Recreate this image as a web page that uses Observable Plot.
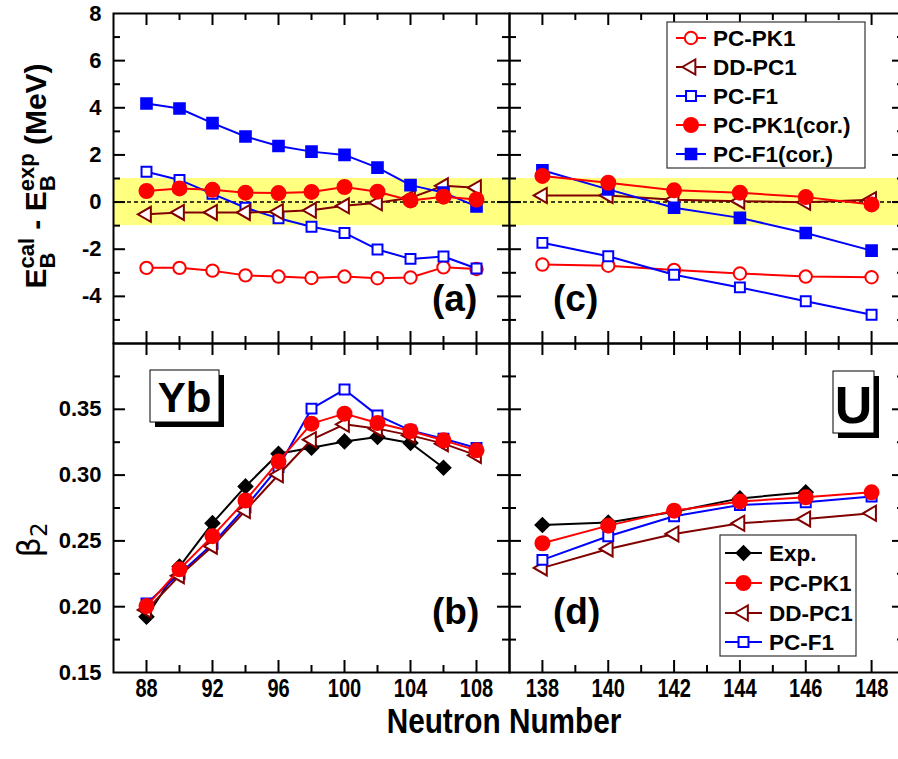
<!DOCTYPE html>
<html><head><meta charset="utf-8">
<script src="https://cdn.jsdelivr.net/npm/d3@7"></script>
<script src="https://cdn.jsdelivr.net/npm/@observablehq/plot@0.6"></script>
<style>
html,body{margin:0;padding:0;background:#fff;}
#fig{position:relative;width:898px;height:759px;overflow:hidden;background:#fff;}
#fig > svg{position:absolute;}
</style></head><body><div id="fig"></div>
<script>
// ---------------- data ----------------
const nYb    = [88, 90, 92, 94, 96, 98, 100, 102, 104, 106, 108];
const nYbExp = [88, 90, 92, 94, 96, 98, 100, 102, 104, 106];
const nU     = [138, 140, 142, 144, 146, 148];
const nUExp  = [138, 140, 142, 144, 146];

// (a) Yb binding energy differences (MeV)
const ybE_PK1    = [-2.79, -2.79, -2.91, -3.11, -3.16, -3.22, -3.16, -3.23, -3.20, -2.77, -2.84];
const ybE_DD     = [-0.52, -0.44, -0.44, -0.44, -0.41, -0.35, -0.16, -0.03, 0.18, 0.69, 0.61];
const ybE_F1     = [1.29, 0.94, 0.35, -0.24, -0.69, -1.05, -1.31, -2.01, -2.41, -2.31, -2.82];
const ybE_PK1cor = [0.47, 0.58, 0.52, 0.40, 0.38, 0.43, 0.64, 0.44, 0.07, 0.23, 0.11];
const ybE_F1cor  = [4.18, 3.97, 3.35, 2.78, 2.38, 2.14, 2.00, 1.46, 0.72, 0.40, -0.18];

// (c) U binding energy differences (MeV)
const uE_PK1    = [-2.65, -2.70, -2.88, -3.03, -3.16, -3.19];
const uE_DD     = [0.28, 0.28, 0.10, 0.04, -0.01, 0.10];
const uE_F1     = [-1.73, -2.30, -3.08, -3.62, -4.21, -4.78];
const uE_PK1cor = [1.11, 0.82, 0.50, 0.40, 0.21, -0.10];
const uE_F1cor  = [1.35, 0.54, -0.24, -0.67, -1.31, -2.06];

// (b) Yb beta2
const ybB_Exp = [0.1924, 0.2305, 0.2635, 0.2914, 0.3162, 0.3208, 0.3256, 0.3289, 0.3244, 0.3056];
const ybB_PK1 = [0.2005, 0.2284, 0.2536, 0.2807, 0.3104, 0.3391, 0.3467, 0.3396, 0.3335, 0.3264, 0.3188];
const ybB_DD  = [0.1975, 0.2236, 0.2460, 0.2731, 0.3003, 0.3269, 0.3386, 0.3353, 0.3302, 0.3239, 0.3150];
const ybB_F1  = [0.2025, 0.2249, 0.2477, 0.2756, 0.3061, 0.3505, 0.3650, 0.3454, 0.3340, 0.3277, 0.3206];

// (d) U beta2
const uB_Exp = [0.2621, 0.2640, 0.2722, 0.2823, 0.2869];
const uB_PK1 = [0.2482, 0.2616, 0.2730, 0.2800, 0.2831, 0.2869];
const uB_DD  = [0.2295, 0.2439, 0.2553, 0.2634, 0.2667, 0.2710];
const uB_F1  = [0.2356, 0.2535, 0.2687, 0.2773, 0.2793, 0.2838];

// ticks / labels
const ticksE      = [-4, -2, 0, 2, 4, 6, 8];
const majorE      = [-4, -2, 0, 2, 4, 6];
const minorE      = [-5, -3, -1, 1, 3, 5, 7];
const ticksBeta   = [0.15, 0.20, 0.25, 0.30, 0.35];
const majorBeta   = [0.20, 0.25, 0.30, 0.35];
const minorBeta   = [0.175, 0.225, 0.275, 0.325, 0.375];
const ticksNYb    = [88, 92, 96, 100, 104, 108];
const minorNYb    = [90, 94, 98, 102, 106];
const ticksNU     = [138, 140, 142, 144, 146, 148];
const minorNU     = [139, 141, 143, 145, 147];
const bandE       = [{y1: -1, y2: 1}];
const zeroLine    = [0];

const legendTop = ["PC-PK1", "DD-PC1", "PC-F1", "PC-PK1(cor.)", "PC-F1(cor.)"];
const legendBot = ["Exp.", "PC-PK1", "DD-PC1", "PC-F1"];

// ---------------- styles ----------------
const RED = "#ff0000", BLUE = "#0000ff", MAROON = "#800000";
const sty = {
  "PC-PK1":       {stroke: RED, fill: "white", symbol: "circle", r: 6.2},
  "DD-PC1":       {stroke: MAROON, fill: "white", symbol: "triangle", r: 5.6, rotate: -90},
  "PC-F1":        {stroke: BLUE, fill: "white", symbol: "square", r: 5.6},
  "PC-PK1(cor.)": {stroke: RED, fill: RED, symbol: "circle", r: 7},
  "PC-F1(cor.)":  {stroke: BLUE, fill: BLUE, symbol: "square", r: 6},
  "Exp.":         {stroke: "black", fill: "black", symbol: "diamond2", r: 6.2},
  "PC-PK1f":      {stroke: RED, fill: RED, symbol: "circle", r: 7}
};

function rows(ns, vs) { return ns.map((n, i) => ({n, v: vs[i]})); }
function series(ns, vs, key) {
  const s = sty[key];
  const d = rows(ns, vs);
  return [
    Plot.line(d, {x: "n", y: "v", stroke: s.stroke, strokeWidth: 2}),
    Plot.dot(d, {x: "n", y: "v", symbol: s.symbol, r: s.r, stroke: s.stroke, fill: s.fill,
                 strokeWidth: 2, rotate: s.rotate || 0})
  ];
}
function frameTicks(xMaj, xMin, yMaj, yMin, fw, fh) {
  const o = {stroke: "black", strokeWidth: 2};
  const X = d => d;
  return [
    Plot.tickX(xMaj, {x: X, insetTop: fh - 12, ...o}),
    Plot.tickX(xMaj, {x: X, insetBottom: fh - 12, ...o}),
    Plot.tickX(xMin, {x: X, insetTop: fh - 7, ...o}),
    Plot.tickX(xMin, {x: X, insetBottom: fh - 7, ...o}),
    Plot.tickY(yMaj, {y: X, insetRight: fw - 12, ...o}),
    Plot.tickY(yMaj, {y: X, insetLeft: fw - 12, ...o}),
    Plot.tickY(yMin, {y: X, insetRight: fw - 7, ...o}),
    Plot.tickY(yMin, {y: X, insetLeft: fw - 7, ...o}),
    Plot.frame({stroke: "black", strokeWidth: 2})
  ];
}
const baseStyle = {background: "transparent", overflow: "visible", fontFamily: "'Liberation Sans', Arial, sans-serif"};
const yAxisOpts = {tickSize: 0, tickPadding: 12, fontSize: 22, fontWeight: "bold",
                   fontFamily: "'Liberation Sans', Arial, sans-serif", label: null};
const xAxisOpts = {tickSize: 0, tickPadding: 7, fontSize: 25, fontWeight: "bold",
                   fontFamily: "'Liberation Sans', Arial, sans-serif", label: null};

const fig = document.getElementById("fig");
function place(svg, left, top) {
  svg.style.left = left + "px"; svg.style.top = top + "px";
  fig.appendChild(svg);
}
// condense the x tick labels horizontally (the reference uses a narrow bold face)
function condenseXLabels(svg, s) {
  d3.select(svg).selectAll('g[aria-label="x-axis tick label"] text').each(function () {
    const el = d3.select(this);
    const tr = el.attr("transform");
    if (tr) el.attr("transform", tr + ` scale(${s},1)`);
    else {
      const x = +el.attr("x") || 0;
      el.attr("x", x / s).attr("transform", `scale(${s},1)`);
    }
  });
}

// ---------------- panel (a) ----------------
const pA = Plot.plot({
  width: 509, height: 343, marginLeft: 113, marginTop: 13, marginRight: 0, marginBottom: 0,
  style: baseStyle,
  x: {domain: [86, 110], axis: null},
  y: {domain: [-6, 8]},
  marks: [
    Plot.rect(bandE, {y1: "y1", y2: "y2", fill: "#ffff80"}),
    Plot.ruleY(zeroLine, {stroke: "black", strokeWidth: 1.6, strokeDasharray: "4,3"}),
    ...series(nYb, ybE_PK1, "PC-PK1"),
    ...series(nYb, ybE_F1, "PC-F1"),
    ...series(nYb, ybE_DD, "DD-PC1"),
    ...series(nYb, ybE_F1cor, "PC-F1(cor.)"),
    ...series(nYb, ybE_PK1cor, "PC-PK1(cor.)"),
    ...frameTicks(ticksNYb, minorNYb, majorE, minorE, 396, 330),
    Plot.axisY({ticks: ticksE, tickFormat: d => String(d), ...yAxisOpts})
  ]
});
place(pA, 0, 0);

// ---------------- panel (c) ----------------
const pC = Plot.plot({
  width: 395, height: 343, marginLeft: 0, marginTop: 13, marginRight: 0, marginBottom: 0,
  style: baseStyle,
  x: {domain: [137, 149], axis: null},
  y: {domain: [-6, 8], axis: null},
  marks: [
    Plot.rect(bandE, {y1: "y1", y2: "y2", fill: "#ffff80"}),
    Plot.ruleY(zeroLine, {stroke: "black", strokeWidth: 1.6, strokeDasharray: "4,3"}),
    ...series(nU, uE_PK1, "PC-PK1"),
    ...series(nU, uE_F1, "PC-F1"),
    ...series(nU, uE_DD, "DD-PC1"),
    ...series(nU, uE_F1cor, "PC-F1(cor.)"),
    ...series(nU, uE_PK1cor, "PC-PK1(cor.)"),
    ...frameTicks(ticksNU, minorNU, majorE, minorE, 395, 330)
  ]
});
place(pC, 509, 0);

// ---------------- panel (b) ----------------
const pB = Plot.plot({
  width: 509, height: 369, marginLeft: 113, marginTop: 0, marginRight: 0, marginBottom: 40,
  style: baseStyle,
  x: {domain: [86, 110]},
  y: {domain: [0.15, 0.40]},
  marks: [
    ...series(nYbExp, ybB_Exp, "Exp."),
    ...series(nYb, ybB_F1, "PC-F1"),
    ...series(nYb, ybB_DD, "DD-PC1"),
    ...series(nYb, ybB_PK1, "PC-PK1f"),
    ...frameTicks(ticksNYb, minorNYb, majorBeta, minorBeta, 396, 329),
    Plot.axisY({ticks: ticksBeta, tickFormat: d3.format(".2f"), ...yAxisOpts}),
    Plot.axisX({ticks: ticksNYb, tickFormat: d => String(d), ...xAxisOpts})
  ]
});
condenseXLabels(pB, 0.8);
place(pB, 0, 343);

// ---------------- panel (d) ----------------
const pD = Plot.plot({
  width: 395, height: 369, marginLeft: 0, marginTop: 0, marginRight: 0, marginBottom: 40,
  style: baseStyle,
  x: {domain: [137, 149]},
  y: {domain: [0.15, 0.40], axis: null},
  marks: [
    ...series(nUExp, uB_Exp, "Exp."),
    ...series(nU, uB_DD, "DD-PC1"),
    ...series(nU, uB_F1, "PC-F1"),
    ...series(nU, uB_PK1, "PC-PK1f"),
    ...frameTicks(ticksNU, minorNU, majorBeta, minorBeta, 395, 329),
    Plot.axisX({ticks: ticksNU, tickFormat: d => String(d), ...xAxisOpts})
  ]
});
condenseXLabels(pD, 0.8);
place(pD, 509, 343);

// ---------------- annotations overlay ----------------
const ov = d3.select(fig).append("svg")
  .attr("width", 898).attr("height", 759)
  .style("left", "0px").style("top", "0px")
  .attr("font-family", "'Liberation Sans', Arial, sans-serif");

function symbolPath(s) {
  const map = {circle: d3.symbolCircle, square: d3.symbolSquare, triangle: d3.symbolTriangle, diamond2: d3.symbolDiamond2};
  return d3.symbol(map[s.symbol], Math.PI * s.r * s.r)();
}
function legend(x, y, w, h, keys, styleKeys, rowY, lineX1, lineX2, textX, fs) {
  const g = ov.append("g");
  g.append("rect").attr("x", x).attr("y", y).attr("width", w).attr("height", h)
    .attr("fill", "white").attr("stroke", "#333").attr("stroke-width", 1.2);
  keys.forEach((k, i) => {
    const s = sty[styleKeys[i]];
    const cy = rowY[i];
    g.append("line").attr("x1", lineX1).attr("x2", lineX2).attr("y1", cy).attr("y2", cy)
      .attr("stroke", s.stroke).attr("stroke-width", 2);
    g.append("path").attr("d", symbolPath(s))
      .attr("transform", `translate(${(lineX1 + lineX2) / 2},${cy}) rotate(${s.rotate || 0})`)
      .attr("fill", s.fill).attr("stroke", s.stroke).attr("stroke-width", 2);
    g.append("text").attr("x", textX).attr("y", cy + 8).attr("font-size", fs)
      .attr("font-weight", "bold").text(k);
  });
}
legend(667, 22, 198, 146, legendTop, legendTop, [38, 67, 96, 125, 154], 676, 706, 713, 22.5);
legend(720, 535, 136, 121, legendBot, ["Exp.", "PC-PK1f", "DD-PC1", "PC-F1"], [553, 583, 613, 642], 725, 762, 769, 22.5);

// panel letters
[["(a)", 432, 311], ["(c)", 553, 311], ["(b)", 432, 624], ["(d)", 553, 624]].forEach(([t, x, y]) => {
  ov.append("text").attr("x", x).attr("y", y).attr("font-size", 37).attr("font-weight", "bold").text(t);
});

// element boxes with shadow
function elemBox(t, x, y, w, h, fs, base) {
  ov.append("rect").attr("x", x + 5).attr("y", y + 5).attr("width", w).attr("height", h).attr("fill", "black");
  ov.append("rect").attr("x", x).attr("y", y).attr("width", w).attr("height", h)
    .attr("fill", "white").attr("stroke", "black").attr("stroke-width", 1);
  ov.append("text").attr("x", x + w / 2).attr("y", base).attr("text-anchor", "middle")
    .attr("font-size", fs).attr("font-weight", "bold").text(t);
}
elemBox("Yb", 150, 370, 69, 52, 42, 412);
elemBox("U", 833, 371, 41, 62, 52, 423);

// y title top
{
  const t = ov.append("text").attr("transform", "translate(46,176) rotate(-90)")
    .attr("text-anchor", "middle").attr("font-size", 30).attr("font-weight", "bold");
  t.append("tspan").text("E");
  const s1 = t.append("tspan").attr("font-size", 22).attr("dy", -12).text("cal");
  const w1 = s1.node().getComputedTextLength();
  const b1 = t.append("tspan").attr("font-size", 22).attr("dx", -w1).attr("dy", 21).text("B");
  const wb1 = b1.node().getComputedTextLength();
  t.append("tspan").attr("dx", w1 - wb1).attr("dy", -9).text(" - E");
  const s2 = t.append("tspan").attr("font-size", 22).attr("dy", -12).text("exp");
  const w2 = s2.node().getComputedTextLength();
  const b2 = t.append("tspan").attr("font-size", 22).attr("dx", -w2).attr("dy", 21).text("B");
  const wb2 = b2.node().getComputedTextLength();
  t.append("tspan").attr("dx", w2 - wb2).attr("dy", -9).text(" (MeV)");
}
// y title bottom
{
  const t = ov.append("text").attr("transform", "translate(40,540) rotate(-90)")
    .attr("text-anchor", "middle").attr("font-size", 32).attr("font-family", "'DejaVu Sans', sans-serif");
  t.append("tspan").text("β");
  t.append("tspan").attr("font-size", 23).attr("dy", 7).text("2");
}
// x title
ov.append("text").attr("transform", "translate(504,733) scale(0.85,1)").attr("text-anchor", "middle")
  .attr("font-size", 35).attr("font-weight", "bold")
  .text("Neutron Number");
</script>
</body></html>
